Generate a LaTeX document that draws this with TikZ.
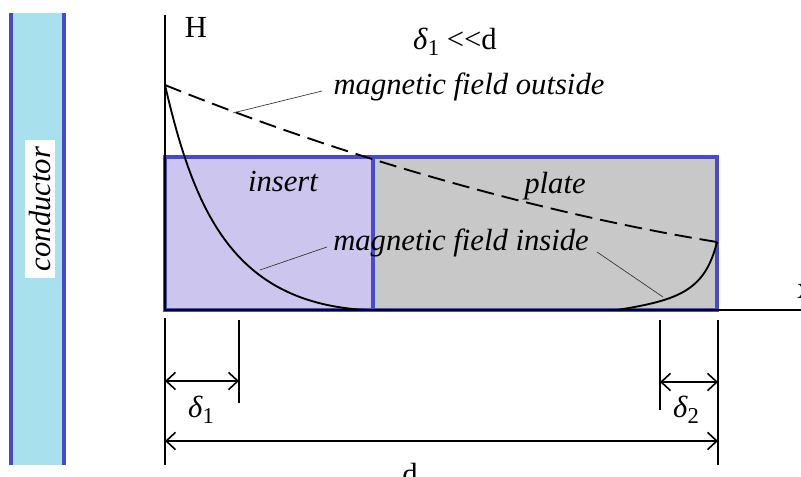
\documentclass[tikz,border=0pt]{standalone}
\usepackage{fontspec}
\setmainfont{Liberation Serif}
\usetikzlibrary{arrows.meta}
\definecolor{condfill}{HTML}{A8E0EE}
\definecolor{edgeblue}{HTML}{4848D0}
\definecolor{insfill}{HTML}{CCC6EE}
\definecolor{platefill}{HTML}{C8C8C8}
\newcommand\dsub[1]{\textit{δ}\raisebox{-0.45ex}{\fontsize{17}{17}\selectfont #1}}
\begin{document}
\begin{tikzpicture}[x=0.75pt,y=-0.75pt,
  lbl/.style={font=\fontsize{23}{27}\selectfont\itshape, inner sep=0pt},
  rlbl/.style={font=\fontsize{23}{27}\selectfont, inner sep=0pt},
  leader/.style={draw=black!80, line width=0.5pt},
  blueedge/.style={draw=edgeblue, line width=2.6pt},
  axisline/.style={black, line width=1.5pt},
  fieldline/.style={black, line width=1.4pt},
  dimline/.style={black, line width=1.2pt},
  dimarrow/.style={black, line width=1.2pt, {Straight Barb[length=7pt,width=13pt]}-{Straight Barb[length=7pt,width=13pt]}},
]
\useasboundingbox (0,0) rectangle (801,477);

% conductor
\fill[condfill] (11,13) rectangle (64,465);
\draw[blueedge] (11,13) -- (11,465);
\draw[blueedge] (64,13) -- (64,465);
\node[lbl, fill=white, rotate=90, inner xsep=5pt, inner ysep=3pt] (cond) at (40,209) {conductor};

% regions
\coordinate (O) at (165,310);
\coordinate (P) at (165,85);
\coordinate (E) at (717,242);
\coordinate (S) at (617,310);
\fill[insfill] (165,157) rectangle (373,310);
\fill[platefill] (373,157) rectangle (717,310);
\draw[blueedge] (165,157) rectangle (373,310);
\draw[blueedge] (373,157) rectangle (717,310);

% axes
\draw[axisline] (165,15) -- (O) -- (801,310);

% curves
\draw[fieldline, dash pattern=on 13pt off 6pt] (P) .. controls (350,160) and (550,215) .. (E);
\draw[fieldline] (P) .. controls (195,215) and (235,302) .. (365,310);
\draw[fieldline] (S) .. controls (680,300) and (705,290) .. (E);

% labels
\node[rlbl] (H) at (196,27) {H};
\node[rlbl] (cond1) at (455,42) {\dsub{1} <{}<d};
\node[lbl] (outside) at (469,87) {magnetic field outside};
\node[lbl] (inside) at (461,243) {magnetic field inside};
\node[lbl] (insert) at (283,182) {insert};
\node[lbl] (plate) at (555,186) {plate};
\node[rlbl, anchor=west] (xlab) at (797,291) {x};

% leaders
\coordinate (lo) at (233,113);
\coordinate (lo2) at (322,91);
\coordinate (li1) at (260,270);
\coordinate (li1b) at (327,247);
\coordinate (li2a) at (597,252);
\coordinate (li2) at (663,297);
\draw[leader] (lo) -- (lo2);
\draw[leader] (li1) -- (li1b);
\draw[leader] (li2a) -- (li2);

% dimensions
\coordinate (a0) at (165,318);
\coordinate (a1) at (165,465);
\coordinate (b0) at (239,320);
\coordinate (b1) at (239,403);
\coordinate (c0) at (660,320);
\coordinate (c1) at (660,410);
\coordinate (e0) at (718,320);
\coordinate (e1) at (718,465);
\draw[dimline] (a0) -- (a1);
\draw[dimline] (b0) -- (b1);
\draw[dimline] (c0) -- (c1);
\draw[dimline] (e0) -- (e1);
\draw[dimarrow] (165,381) -- (239,381);
\draw[dimarrow] (660,382) -- (718,382);
\draw[dimarrow] (165,441) -- (718,441);
\node[rlbl] (d1) at (201,410) {\dsub{1}};
\node[rlbl] (d2) at (686,410) {\dsub{2}};
\node[rlbl] (dd) at (410,474) {d};
\end{tikzpicture}
\end{document}
